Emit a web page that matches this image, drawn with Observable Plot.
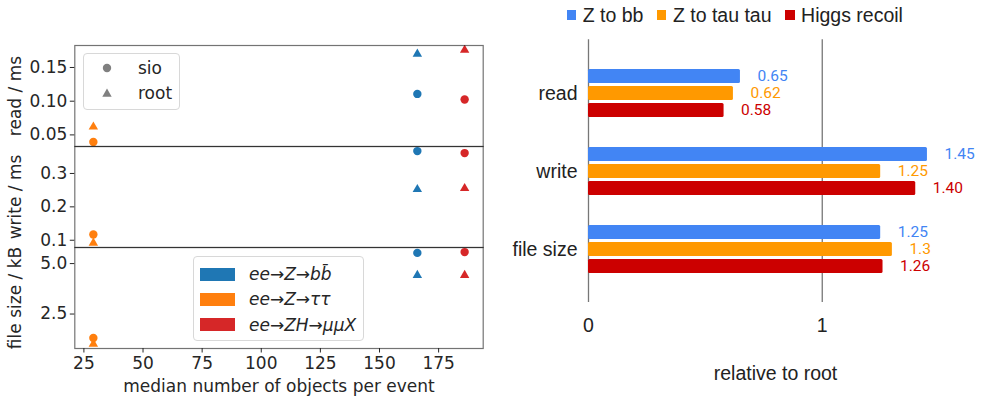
<!DOCTYPE html>
<html>
<head>
<meta charset="utf-8">
<script src="https://cdn.jsdelivr.net/npm/d3@7"></script>
<script src="https://cdn.jsdelivr.net/npm/@observablehq/plot@0.6"></script>
<style>
  body { margin: 0; background: #fff; }
  #root { position: relative; width: 981px; height: 398px; overflow: hidden; background: #fff; }
  .abs { position: absolute; }
</style>
</head>
<body>
<div id="root"></div>
<script>
// ---------- Left chart data (matplotlib-style scatter, three stacked panels) ----------
const samples = ["ee→Z→bb\u0304", "ee→Z→ττ", "ee→ZH→μμX"];
const sampleColors = ["#1f77b4", "#ff7f0e", "#d62728"];
const medianObjects = [166, 29, 186];
const readSio = [0.1108, 0.0396, 0.1025];
const readRoot = [0.170, 0.0619, 0.1758];
const writeSio = [0.367, 0.117, 0.361];
const writeRoot = [0.2525, 0.092, 0.2555];
const sizeSio = [5.53, 1.31, 5.57];
const sizeRoot = [4.42, 1.02, 4.42];
const xTicks = [25, 50, 75, 100, 125, 150, 175];
const readTicks = [0.05, 0.10, 0.15];
const writeTicks = [0.1, 0.2, 0.3];
const sizeTicks = [2.5, 5.0];
const formatLabels = ["sio", "root"];

// ---------- Right chart data (relative to root) ----------
const metrics = ["read", "write", "file size"];
const seriesNames = ["Z to bb", "Z to tau tau", "Higgs recoil"];
const seriesColors = ["#4285f4", "#ff9900", "#cc0000"];
const zbbValues = [0.65, 1.45, 1.25];
const ztautauValues = [0.62, 1.25, 1.30];
const higgsValues = [0.58, 1.40, 1.26];
const zbbLabels = ["0.65", "1.45", "1.25"];
const ztautauLabels = ["0.62", "1.25", "1.3"];
const higgsLabels = ["0.58", "1.40", "1.26"];
const relTicks = [0, 1];

const root = document.getElementById("root");

// matplotlib-like autoscale with 5% margins
function pad(vals) {
  const [lo, hi] = d3.extent(vals);
  const m = (hi - lo) * 0.05;
  return [lo - m, hi + m];
}
const xDomain = pad(medianObjects);

const leftFont = "'DejaVu Sans', sans-serif";
const panelDefs = [
  {sio: readSio, root: readRoot, ticks: readTicks, fmt: d3.format(".2f"), label: "read / ms", top: 44.7},
  {sio: writeSio, root: writeRoot, ticks: writeTicks, fmt: d3.format(".1f"), label: "write / ms", top: 145.8},
  {sio: sizeSio, root: sizeRoot, ticks: sizeTicks, fmt: d3.format(".1f"), label: "file size / kB", top: 246.9, last: true}
];

panelDefs.forEach(p => {
  const rows = samples.map((s, i) => ({sample: s, x: medianObjects[i], sio: p.sio[i], root: p.root[i]}));
  const marks = [
    Plot.dot(rows, {x: "x", y: "sio", fill: "sample", r: 4.2, symbol: "circle", clip: true}),
    Plot.dot(rows, {x: "x", y: "root", fill: "sample", r: 3.5, symbol: "triangle", clip: true}),
    Plot.frame({stroke: "#000", strokeOpacity: 0.55, strokeWidth: 1.2}),
    Plot.axisY({ticks: p.ticks, tickFormat: p.fmt, tickSize: 4.5, tickPadding: 3,
      label: p.label, labelAnchor: "center", labelArrow: "none", labelOffset: 66})
  ];
  if (p.last) {
    marks.push(Plot.axisX({ticks: xTicks, tickSize: 4.5, tickPadding: 3.5,
      label: "median number of objects per event", labelAnchor: "center", labelArrow: "none", labelOffset: 43}));
  }
  const chart = Plot.plot({
    width: 490,
    height: p.last ? 152 : 101,
    marginLeft: 74.3, marginRight: 7.3, marginTop: 0, marginBottom: p.last ? 51 : 0,
    x: {domain: xDomain, axis: null},
    y: {domain: pad([...p.sio, ...p.root]), axis: null},
    color: {domain: samples, range: sampleColors},
    style: {fontFamily: leftFont, fontSize: "17px", color: "#262626", background: "transparent", overflow: "visible"},
    marks
  });
  chart.classList.add("abs");
  chart.style.left = "0px";
  chart.style.top = p.top + "px";
  root.appendChild(chart);
});

// Legend: sio / root (marker shapes)
{
  const box = document.createElement("div");
  box.className = "abs";
  Object.assign(box.style, {left: "83px", top: "53px", width: "95px", height: "55px",
    border: "1px solid #d8d8d8", borderRadius: "4px", background: "rgba(255,255,255,0.85)",
    font: "17px " + leftFont, color: "#262626"});
  formatLabels.forEach((name, i) => {
    const row = document.createElement("div");
    row.className = "abs";
    Object.assign(row.style, {left: "0px", top: (3 + i * 25) + "px", height: "22px", display: "flex", alignItems: "center"});
    const glyph = name === "sio"
      ? `<svg width="12" height="12" style="margin-left:17px"><circle cx="6" cy="6" r="4.2" fill="#808080"/></svg>`
      : `<svg width="12" height="12" style="margin-left:17px"><path transform="translate(6,7)" d="${d3.symbol(d3.symbolTriangle, Math.PI * 3.5 * 3.5)()}" fill="#808080"/></svg>`;
    row.innerHTML = glyph + `<span style="margin-left:25px">${name}</span>`;
    box.appendChild(row);
  });
  root.appendChild(box);
}

// Legend: samples (colour patches)
{
  const box = document.createElement("div");
  box.className = "abs";
  Object.assign(box.style, {left: "193px", top: "256px", width: "169px", height: "83px",
    border: "1px solid #d8d8d8", borderRadius: "4px", background: "rgba(255,255,255,0.85)",
    font: "italic 17px " + leftFont, color: "#262626"});
  samples.forEach((s, i) => {
    const row = document.createElement("div");
    row.className = "abs";
    Object.assign(row.style, {left: "6px", top: (5 + i * 25.3) + "px", height: "24px", display: "flex", alignItems: "center", whiteSpace: "nowrap"});
    row.innerHTML = `<span style="display:inline-block;width:35px;height:13px;background:${sampleColors[i]}"></span><span style="margin-left:14px">${s}</span>`;
    box.appendChild(row);
  });
  root.appendChild(box);
}

// ---------- Right chart ----------
const seriesValues = [zbbValues, ztautauValues, higgsValues];
const seriesLabels = [zbbLabels, ztautauLabels, higgsLabels];
const relRows = metrics.flatMap((m, i) => seriesNames.map((s, j) => ({
  metric: m, series: s, value: seriesValues[j][i], label: seriesLabels[j][i]
})));

const barStep = 17;
const rightChart = Plot.plot({
  width: 481, height: 398,
  marginLeft: 88, marginRight: 19, marginTop: 39.3, marginBottom: 96,
  x: {domain: [0, 1.6], axis: null},
  y: {domain: metrics, paddingInner: 0, paddingOuter: 0.166, axis: null},
  color: {domain: seriesNames, range: seriesColors},
  style: {fontFamily: "'Liberation Sans', Arial, sans-serif", fontSize: "19.5px", color: "#222", background: "transparent", overflow: "visible"},
  marks: [
    Plot.ruleX(relTicks, {stroke: "#777", strokeWidth: 1.3}),
    ...seriesNames.flatMap((s, j) => {
      const rows = relRows.filter(d => d.series === s);
      return [
        Plot.barX(rows, {x: "value", y: "metric", fill: "series", dy: (j - 1) * barStep,
          insetTop: 31.9, insetBottom: 31.9, rx: 1.5}),
        Plot.text(rows, {x: "value", y: "metric", text: "label", fill: "series", dy: (j - 1) * barStep,
          dx: 17, textAnchor: "start", fontFamily: "Roboto, sans-serif", fontSize: 15.5})
      ];
    }),
    Plot.axisY({tickSize: 0, tickPadding: 11, label: null}),
    Plot.axisX({ticks: relTicks, tickSize: 0, tickPadding: 16, tickFormat: d3.format("d"),
      label: "relative to root", labelAnchor: "center", labelArrow: "none", labelOffset: 77})
  ]
});
rightChart.classList.add("abs");
rightChart.style.left = "500px";
rightChart.style.top = "0px";
root.appendChild(rightChart);

// Right legend
{
  const leg = document.createElement("div");
  leg.className = "abs";
  Object.assign(leg.style, {left: "566.7px", top: "4px", display: "flex", gap: "13.5px",
    font: "19.5px 'Liberation Sans', Arial, sans-serif", lineHeight: "22.4px", color: "#222", whiteSpace: "nowrap"});
  seriesNames.forEach((s, i) => {
    const item = document.createElement("span");
    Object.assign(item.style, {display: "flex", alignItems: "center", gap: "6.5px"});
    item.innerHTML = `<span style="display:inline-block;width:9.5px;height:9.5px;background:${seriesColors[i]}"></span><span>${s}</span>`;
    leg.appendChild(item);
  });
  root.appendChild(leg);
}
</script>
</body>
</html>
